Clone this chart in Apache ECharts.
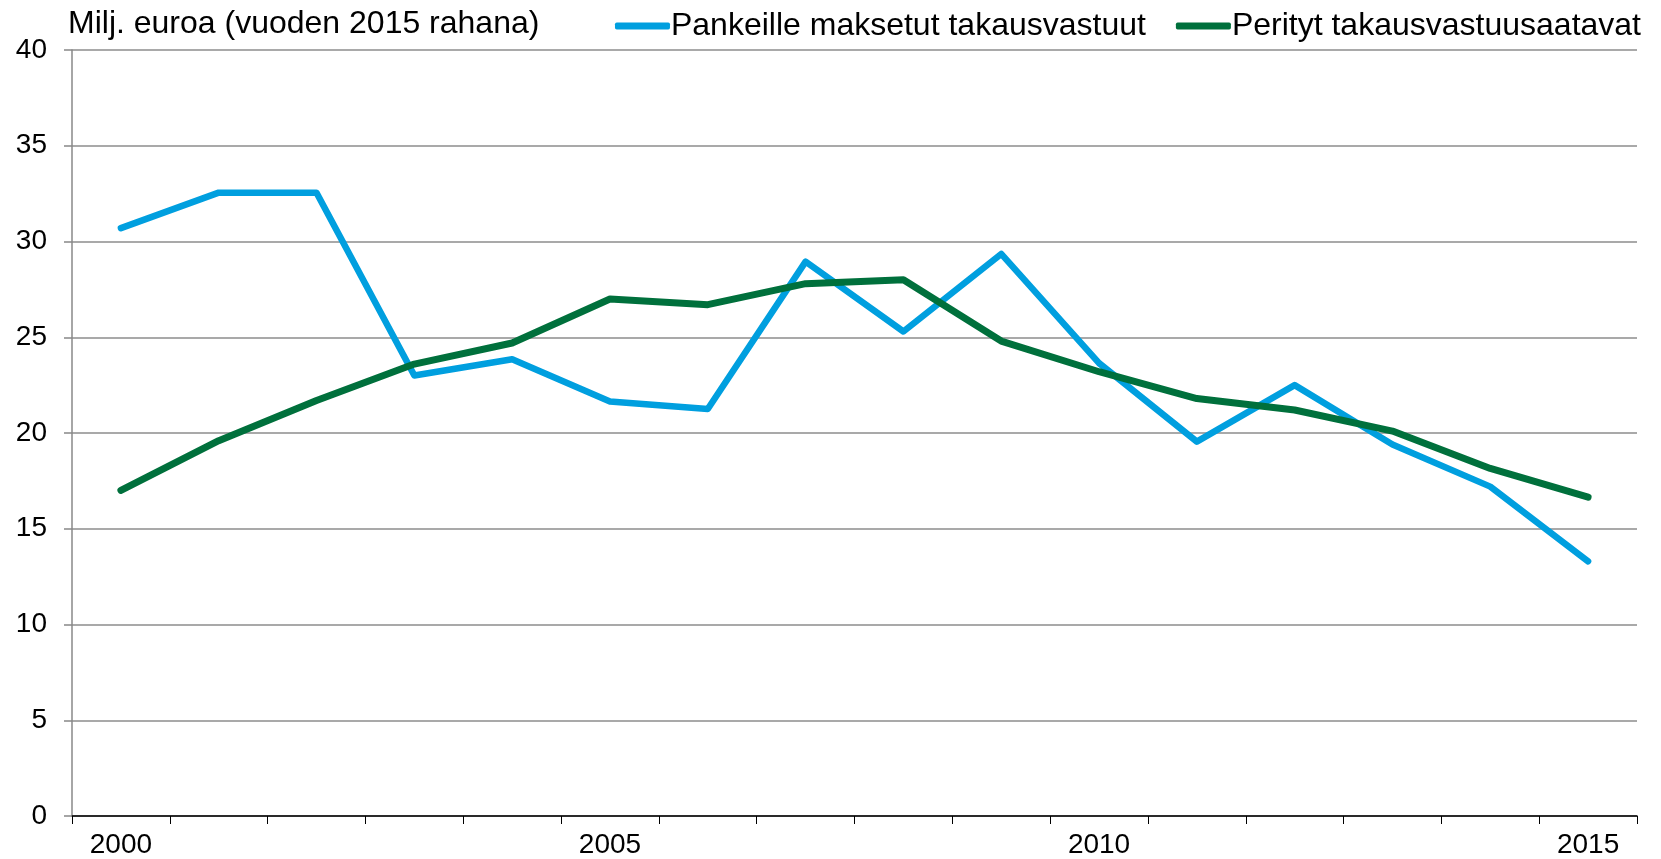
<!DOCTYPE html>
<html>
<head>
<meta charset="utf-8">
<script src="https://cdn.jsdelivr.net/npm/echarts@6/dist/echarts.min.js"></script>
<style>
  html, body { margin: 0; padding: 0; background: #ffffff; }
  #chart { width: 1661px; height: 859px; }
</style>
</head>
<body>
<div id="chart"></div>
<script>
// vuodet
var years = ['2000', '2001', '2002', '2003', '2004', '2005', '2006', '2007',
             '2008', '2009', '2010', '2011', '2012', '2013', '2014', '2015'];

// Pankeille maksetut takausvastuut
var maksetut = [30.7, 32.55, 32.55, 23.0, 23.85, 21.65, 21.25, 28.95,
                25.3, 29.35, 23.65, 19.55, 22.5, 19.4, 17.2, 13.3];

// Perityt takausvastuusaatavat
var perityt = [17.0, 19.6, 21.7, 23.6, 24.7, 27.0, 26.7, 27.8,
               28.0, 24.8, 23.2, 21.8, 21.2, 20.1, 18.15, 16.65];

var seriesNames = ['Pankeille maksetut takausvastuut', 'Perityt takausvastuusaatavat'];
var yTicks = { min: 0, max: 40, step: 5 };

var font = 'Liberation Sans, Arial, sans-serif';
var chart = echarts.init(document.getElementById('chart'));

chart.setOption({
  backgroundColor: '#ffffff',
  animation: false,
  title: {
    text: 'Milj. euroa (vuoden 2015 rahana)',
    left: 63,
    top: 3,
    textStyle: { fontFamily: font, fontSize: 32, fontWeight: 'normal', color: '#000' }
  },
  legend: {
    data: seriesNames,
    right: 15,
    top: 5,
    itemWidth: 55,
    itemHeight: 7,
    itemGap: 30,
    icon: 'roundRect',
    textStyle: { fontFamily: font, fontSize: 32, color: '#000', padding: [0, 0, 0, -4] }
  },
  grid: { left: 72, right: 24, top: 50, bottom: 42 },
  xAxis: {
    type: 'category',
    data: years,
    boundaryGap: true,
    axisLine: { lineStyle: { color: '#000', width: 1.5 } },
    axisTick: { show: true, interval: 0, length: 8, lineStyle: { color: '#000', width: 1 } },
    axisLabel: { interval: 4, fontFamily: font, fontSize: 28, color: '#000', margin: 15 },
    splitLine: { show: false }
  },
  yAxis: {
    type: 'value',
    min: yTicks.min,
    max: yTicks.max,
    interval: yTicks.step,
    axisLine: { show: true, lineStyle: { color: '#888', width: 1.5 } },
    axisTick: { show: true, length: 8, lineStyle: { color: '#888', width: 1.5 } },
    axisLabel: { fontFamily: font, fontSize: 28, color: '#000', margin: 25 },
    splitLine: { lineStyle: { color: '#8c8c8c', width: 1.5 } }
  },
  series: [
    {
      name: seriesNames[0],
      type: 'line',
      data: maksetut,
      symbol: 'none',
      color: '#009FDF',
      lineStyle: { width: 6.5, color: '#009FDF', cap: 'round', join: 'round' }
    },
    {
      name: seriesNames[1],
      type: 'line',
      data: perityt,
      symbol: 'none',
      color: '#00703C',
      lineStyle: { width: 7, color: '#00703C', cap: 'round', join: 'round' }
    }
  ]
});
</script>
</body>
</html>
